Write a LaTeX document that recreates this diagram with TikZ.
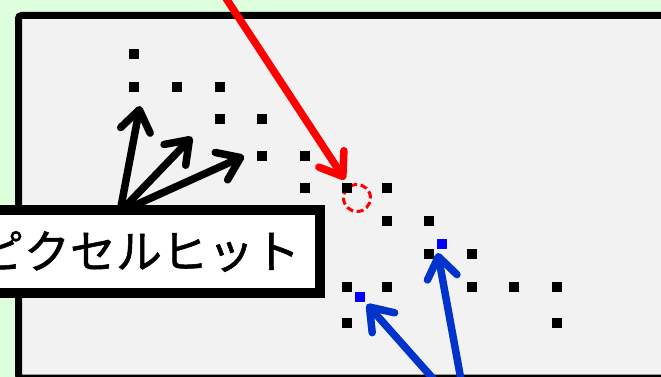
\documentclass[tikz,border=0pt]{standalone}
\usepackage{fontspec}
\newfontfamily\jpfont[FakeBold=1.2]{Noto Sans CJK JP}
\usetikzlibrary{arrows.meta}
\definecolor{bggreen}{HTML}{DDFFDD}
\definecolor{panelgray}{HTML}{F2F2F2}
\definecolor{hitblue}{HTML}{0033CC}

\begin{document}
\begin{tikzpicture}[x=1pt,y=-1pt,
  pix/.style={fill=black,minimum size=10pt,inner sep=0pt,outer sep=0pt},
  bluepix/.style={pix,fill=blue},
  arr/.style={-{Straight Barb[length=21pt,width=30pt,round]},line width=7.5pt,line cap=round},
  labelbox/.style={draw,fill=white,line width=10pt,minimum width=362pt,
                   minimum height=83pt,inner sep=0pt,
                   font=\jpfont\fontsize{46}{50}\selectfont}]
  \useasboundingbox (0,0) rectangle (661,377);
  \clip (0,0) rectangle (661,377);
  \fill[bggreen] (0,0) rectangle (661,377);
  \draw[line width=7pt,fill=panelgray,rounded corners=3pt] (18.5,15.5) rectangle (700,378);
  \node[draw=red,circle,line width=3pt,dash pattern=on 7pt off 3.5pt,
        minimum size=27pt,inner sep=0pt] (miss) at (357,198) {};
  % black pixels
  \foreach \x/\y [count=\i] in {134/54,134/87,177/87,220/87,220/119,262/119,262/156,
      305/156,305/188,347/188,387/188,387/221,429/221,429/254,472/254,
      347/287,387/287,472/287,514/287,557/287,347/323,557/323}
    \node[pix] (p\i) at (\x,\y) {};
  \node[bluepix] (b1) at (360,297) {};
  \node[bluepix] (b2) at (442,244) {};
  % arrows towards the hit pixels
  \coordinate (src) at (120,212);
  \coordinate (aim1) at (140,106);
  \coordinate (aim2) at (192,137);
  \coordinate (aim3) at (244,156);
  \foreach \a in {aim1,aim2,aim3}
    \draw[arr] (src) -- (\a);
  \node[labelbox] (hit) at (139,251.5) {ピクセルヒット};
  % miss and blue hits
  \coordinate (redsrc) at (214,-20);
  \draw[arr,red,shorten >=7pt] (redsrc) -- (miss);
  \coordinate (bluesrc) at (468,418);
  \draw[arr,hitblue,shorten >=3pt] (bluesrc) -- (b1.south east);
  \draw[arr,hitblue,shorten >=4pt] (bluesrc) -- (b2.south west);
\end{tikzpicture}
\end{document}
